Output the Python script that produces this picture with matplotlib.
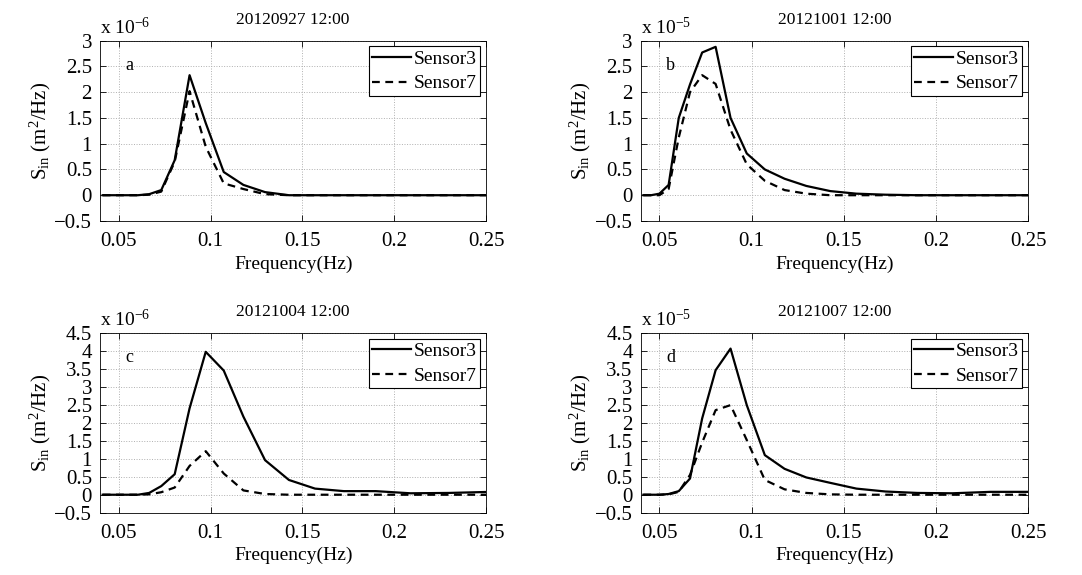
import numpy as np
import matplotlib
matplotlib.use('Agg')
from matplotlib import pyplot as plt
from matplotlib.ticker import FuncFormatter

plt.rcParams['font.family'] = ['Liberation Serif', 'DejaVu Serif']
plt.rcParams['mathtext.fontset'] = 'custom'
plt.rcParams['mathtext.rm'] = 'Liberation Serif'
plt.rcParams['mathtext.it'] = 'Liberation Serif:italic'

# frequency bins (Hz)
freq = [0.0413, 0.0455, 0.0500, 0.0550, 0.0605, 0.0666, 0.0732, 0.0805, 0.0886,
        0.0974, 0.1072, 0.1179, 0.1297, 0.1427, 0.1569, 0.1726, 0.1899, 0.2089,
        0.2297, 0.2527]

titles = ['20120927 12:00', '20121001 12:00', '20121004 12:00', '20121007 12:00']
letters = ['a', 'b', 'c', 'd']
exponents = [-6, -5, -6, -5]
ymax = [3, 3, 4.5, 4.5]

# spectra, in units of 10^exponent m^2/Hz
s3_a = [0, 0, 0, 0, 0, 0.02, 0.10, 0.68, 2.33, 1.40, 0.45, 0.20, 0.06, 0, 0, 0, 0, 0, 0, 0]
s7_a = [0, 0, 0, 0, 0, 0.01, 0.07, 0.65, 2.02, 0.94, 0.23, 0.12, 0.02, 0, 0, 0, 0, 0, 0, 0]
s3_b = [0, 0, 0.03, 0.20, 1.50, 2.15, 2.77, 2.88, 1.50, 0.81, 0.50, 0.32, 0.18, 0.08, 0.03, 0.01, 0, 0, 0, 0]
s7_b = [0, 0, 0, 0.12, 1.12, 2.00, 2.33, 2.16, 1.27, 0.60, 0.28, 0.10, 0.03, 0, 0, 0, 0, 0, 0, 0]
s3_c = [0, 0, 0, 0, 0, 0.05, 0.24, 0.57, 2.40, 3.97, 3.45, 2.17, 0.96, 0.41, 0.17, 0.10, 0.10, 0.04, 0.05, 0.08]
s7_c = [0, 0, 0, 0, 0, 0.01, 0.07, 0.20, 0.80, 1.21, 0.59, 0.12, 0.02, 0, 0, 0, 0, 0, 0, 0]
s3_d = [0, 0, 0, 0.02, 0.10, 0.45, 2.12, 3.46, 4.06, 2.49, 1.10, 0.72, 0.48, 0.33, 0.17, 0.09, 0.05, 0.04, 0.08, 0.08]
s7_d = [0, 0, 0, 0.01, 0.08, 0.55, 1.45, 2.35, 2.49, 1.52, 0.41, 0.15, 0.05, 0.01, 0, 0, 0, 0, 0, 0]

sensor3 = [s3_a, s3_b, s3_c, s3_d]
sensor7 = [s7_a, s7_b, s7_c, s7_d]

positions = [[0.0927, 0.6157, 0.3565, 0.3136],
             [0.5924, 0.6157, 0.3577, 0.3136],
             [0.0927, 0.1083, 0.3565, 0.3130],
             [0.5924, 0.1083, 0.3577, 0.3130]]

fig = plt.figure(figsize=(10.82, 5.75), dpi=100)


def fmt(v, pos):
    s = ('%g' % v)
    return s.replace('-', '\u2212')


for i in range(4):
    ax = fig.add_axes(positions[i])
    ax.plot(freq, sensor3[i], color='black', linewidth=1.6, label='Sensor3')
    ax.plot(freq, sensor7[i], color='black', linewidth=1.6, linestyle=(0, (3.5, 2.5)), label='Sensor7')
    ax.set_xlim(0.04, 0.25)
    ax.set_ylim(-0.5, ymax[i])
    ax.set_xticks([0.05, 0.1, 0.15, 0.2, 0.25])
    ax.set_yticks(np.arange(-0.5, ymax[i] + 0.01, 0.5))
    ax.xaxis.set_major_formatter(FuncFormatter(fmt))
    ax.yaxis.set_major_formatter(FuncFormatter(fmt))
    ax.tick_params(direction='in', length=4, width=0.6, labelsize=15, top=True, right=True)
    ax.tick_params(axis='x', pad=8)
    ax.tick_params(axis='y', pad=6)
    ax.grid(True, linestyle=':', color='#b0b0b0', linewidth=0.7)
    for sp in ax.spines.values():
        sp.set_linewidth(0.6)
    ax.set_xlabel('Frequency(Hz)', fontsize=14, labelpad=3)
    ax.set_ylabel(r'S$_{\rm in}$ (m$^2$/Hz)', fontsize=15, labelpad=1)
    ax.set_title(titles[i], fontsize=12.5, pad=12)
    ax.text(0.0, 1.015, r'x 10$^{%d}$' % exponents[i], transform=ax.transAxes,
            fontsize=14, ha='left', va='bottom')
    ax.text(0.065, 0.86, letters[i], transform=ax.transAxes, fontsize=13,
            ha='left', va='center')
    leg = ax.legend(loc='upper right', fontsize=14, fancybox=False, framealpha=1,
                    edgecolor='black', borderpad=0.2, handlelength=2.0,
                    handletextpad=0.1, labelspacing=0.35, borderaxespad=0.3)
    leg.get_frame().set_linewidth(0.8)

fig.savefig('out.png', dpi=100, facecolor='white')
